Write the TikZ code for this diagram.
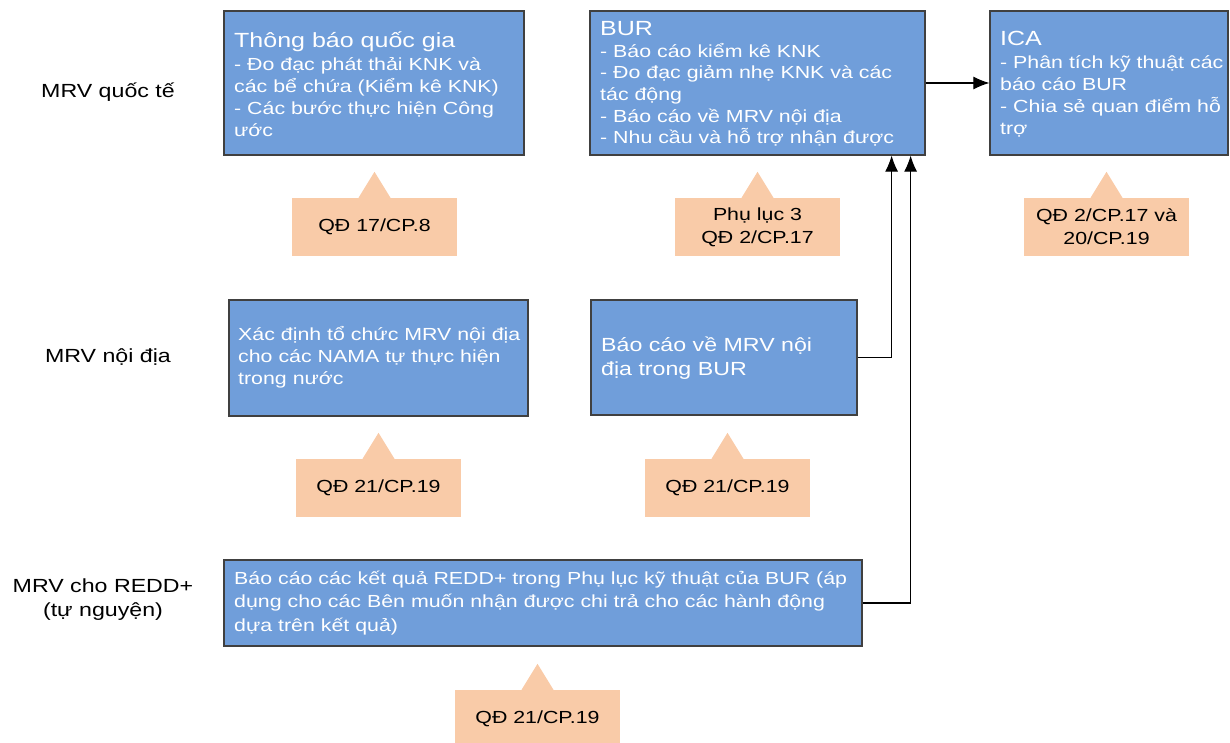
\documentclass[tikz,border=0pt]{standalone}
\usepackage{fontspec}
\setmainfont{Liberation Sans}[FakeStretch=1.22]
\usetikzlibrary{arrows.meta}
\definecolor{boxblue}{HTML}{709EDA}
\definecolor{boxedge}{HTML}{404040}
\definecolor{peach}{HTML}{F9CBA8}
\tikzset{
  box/.style={draw=boxedge, line width=1.2pt, fill=boxblue, rectangle, inner sep=0pt},
  boxtext/.style={anchor=west, align=left, text=white, inner sep=0pt,
    font=\fontsize{17.5}{22}\selectfont},
  rowlabel/.style={align=center, inner sep=0pt, font=\fontsize{19}{24}\selectfont},
  note/.style={fill=peach, rectangle, minimum width=165pt, minimum height=58pt,
    inner sep=0pt, align=center, font=\fontsize{17.5}{23}\selectfont},
  arr/.style={line width=1.1pt, -{Latex[length=16pt,width=13pt]}}
}
\newcommand{\hd}[1]{{\fontsize{20.5}{24}\selectfont #1}}
\newcommand{\pointer}[1]{\fill[peach] ([xshift=-16pt]#1.north) -- ([xshift=16pt]#1.north) -- ([yshift=26pt]#1.north) -- cycle;}
\begin{document}
\begin{tikzpicture}[x=1pt,y=-1pt]
\useasboundingbox (0,0) rectangle (1230,743);

% row labels
\node[rowlabel] (lblintl) at (108,92) {MRV quốc tế};
\node[rowlabel] (lbldom) at (108,357) {MRV nội địa};
\node[rowlabel] (lblredd) at (103,600) {MRV cho REDD+\\(tự nguyện)};

% international MRV
\node[box, minimum width=300pt, minimum height=144pt] (natcom) at (374,83) {};
\node[boxtext] (natcomtxt) at (234,84) {\hd{Thông báo quốc gia}\\[1pt]- Đo đạc phát thải KNK và\\các bể chứa (Kiểm kê KNK)\\- Các bước thực hiện Công\\ước};

\node[box, minimum width=335pt, minimum height=144pt] (bur) at (757.5,83) {};
\node[boxtext, font=\fontsize{17.5}{21.7}\selectfont] (burtxt) at (600,84) {\hd{BUR}\\- Báo cáo kiểm kê KNK\\- Đo đạc giảm nhẹ KNK và các\\tác động\\- Báo cáo về MRV nội địa\\- Nhu cầu và hỗ trợ nhận được};

\node[box, minimum width=238pt, minimum height=144pt] (ica) at (1109,83) {};
\node[boxtext] (icatxt) at (1000,84) {\hd{ICA}\\[1pt]- Phân tích kỹ thuật các\\báo cáo BUR\\- Chia sẻ quan điểm hỗ\\trợ};

% domestic MRV
\node[box, minimum width=299pt, minimum height=116pt] (nama) at (378.5,358) {};
\node[boxtext] (namatxt) at (238,357) {Xác định tổ chức MRV nội địa\\cho các NAMA tự thực hiện\\trong nước};

\node[box, minimum width=266pt, minimum height=115pt] (domrep) at (724,357.5) {};
\node[boxtext, font=\fontsize{19}{24}\selectfont] (domreptxt) at (601,358) {Báo cáo về MRV nội\\địa trong BUR};

% REDD+
\node[box, minimum width=638pt, minimum height=86pt] (redd) at (543,603) {};
\node[boxtext, font=\fontsize{17.5}{23.5}\selectfont] (reddtxt) at (234,603) {Báo cáo các kết quả REDD+ trong Phụ lục kỹ thuật của BUR (áp\\dụng cho các Bên muốn nhận được chi trả cho các hành động\\dựa trên kết quả)};

% decision notes
\node[note] (n1) at (374.5,227) {QĐ 17/CP.8};
\node[note] (n2) at (757.5,227) {Phụ lục 3\\QĐ 2/CP.17};
\node[note] (n3) at (1106.5,227) {QĐ 2/CP.17 và\\20/CP.19};
\node[note] (n4) at (378.5,488) {QĐ 21/CP.19};
\node[note] (n5) at (727.5,488) {QĐ 21/CP.19};
\node[note] (n6) at (537.5,719) {QĐ 21/CP.19};
\pointer{n1}
\pointer{n2}
\pointer{n3}
\pointer{n4}
\pointer{n5}
\pointer{n6}

% connectors
\draw[arr] (bur.east) -- (ica.west);
\draw[arr] (domrep.east) -| ([xshift=-34pt]bur.south east);
\draw[arr] (redd.east) -| ([xshift=-15pt]bur.south east);
\end{tikzpicture}
\end{document}
